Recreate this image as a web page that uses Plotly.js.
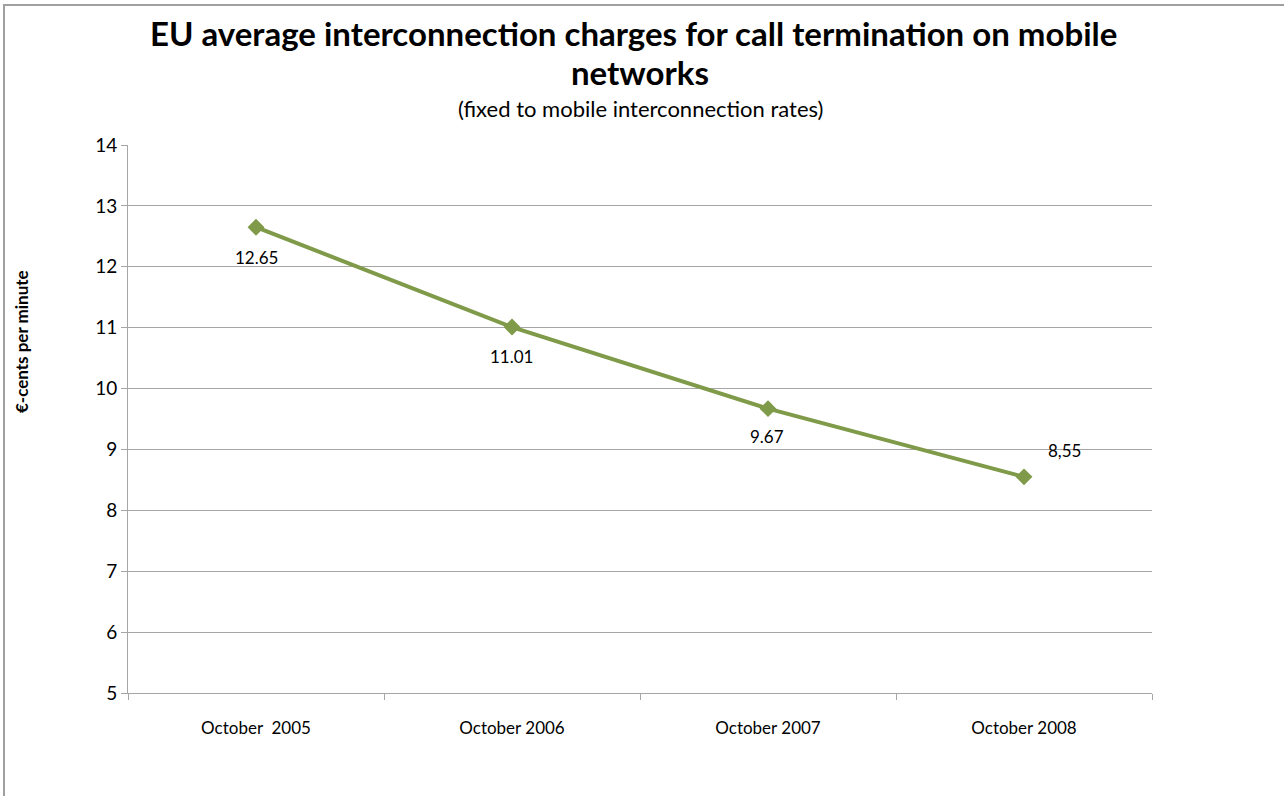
<!DOCTYPE html>
<html>
<head>
<meta charset="utf-8">
<script src="https://cdn.plot.ly/plotly-3.0.1.min.js"></script>
<style>html,body{margin:0;padding:0;background:#fff;}#chart{width:1284px;height:796px;}</style>
</head>
<body>
<div id="chart"></div>
<script>
const categories = ["October  2005", "October 2006", "October 2007", "October 2008"];
const values = [12.65, 11.01, 9.67, 8.55];
const valueLabels = ["12.65", "11.01", "9.67", "8,55"];
const yTicks = [5, 6, 7, 8, 9, 10, 11, 12, 13, 14];
const titleLines = ["EU average interconnection charges for call termination on mobile", "networks"];
const subtitle = "(fixed to mobile interconnection rates)";
const yTitle = "€-cents per minute";

const green = "#7F9A48";
const grid = "#A6A6A6";
const font = "Lato, 'Open Sans', sans-serif";

const PLOT_TOP = 145, PLOT_BOTTOM = 693, PLOT_H = 548;
const py = (pix) => (PLOT_BOTTOM - pix) / PLOT_H;

const labelOffsets = [
  {ax: 0, ay: 30},
  {ax: -1, ay: 29},
  {ax: -1, ay: 28},
  {ax: 40, ay: -26}
];

const annotations = values.map((v, i) => ({
  x: categories[i], y: v, xref: "x", yref: "y",
  text: valueLabels[i], showarrow: true, arrowcolor: "rgba(0,0,0,0)",
  ax: labelOffsets[i].ax, ay: labelOffsets[i].ay,
  font: {family: font, size: 17, color: "#000"}
}));
annotations.push({
  xref: "paper", yref: "paper", x: -107/1024, y: py(342),
  xanchor: "center", yanchor: "middle",
  text: "<b>" + yTitle + "</b>", textangle: -90, showarrow: false,
  font: {family: font, size: 17, color: "#000"}
});
annotations.push({
  xref: "paper", yref: "paper", x: 0.494, y: py(33), yanchor: "middle",
  text: "<b>" + titleLines[0] + "</b>", showarrow: false,
  font: {family: font, size: 33, color: "#000"}
});
annotations.push({
  xref: "paper", yref: "paper", x: 0.5, y: py(72), yanchor: "middle",
  text: "<b>" + titleLines[1] + "</b>", showarrow: false,
  font: {family: font, size: 33, color: "#000"}
});
annotations.push({
  xref: "paper", yref: "paper", x: 0.5, y: py(108), yanchor: "middle",
  text: subtitle, showarrow: false,
  font: {family: font, size: 22, color: "#000"}
});

const trace = {
  x: categories, y: values, type: "scatter", mode: "lines+markers",
  line: {color: green, width: 4},
  marker: {symbol: "diamond", size: 13, color: green},
  hoverinfo: "skip"
};

const layout = {
  width: 1284, height: 796,
  margin: {l: 128, r: 132, t: PLOT_TOP, b: 103},
  paper_bgcolor: "#fff", plot_bgcolor: "#fff",
  showlegend: false,
  xaxis: {
    type: "category", range: [-0.5, 3.5], tickson: "boundaries", ticks: "outside", ticklen: 6,
    tickcolor: grid, showline: true, linecolor: grid, linewidth: 1,
    showgrid: false, tickfont: {family: font, size: 17, color: "#000"},
    zeroline: false, ticklabelstandoff: 20
  },
  yaxis: {
    range: [5, 14], tickvals: yTicks, ticks: "outside", ticklen: 6,
    tickcolor: grid, showline: true, linecolor: grid, linewidth: 1,
    showgrid: true, gridcolor: grid, gridwidth: 1, zeroline: false,
    tickfont: {family: font, size: 19, color: "#000"}, ticklabelstandoff: 0
  },
  annotations: annotations,
  shapes: [{
    type: "rect", xref: "paper", yref: "paper",
    x0: -124/1024, x1: 1.40, y0: -0.30, y1: py(5),
    line: {color: "#A0A0A0", width: 2}, fillcolor: "rgba(0,0,0,0)", layer: "below"
  }]
};

Plotly.newPlot("chart", [trace], layout, {staticPlot: true, displayModeBar: false});
</script>
</body>
</html>
